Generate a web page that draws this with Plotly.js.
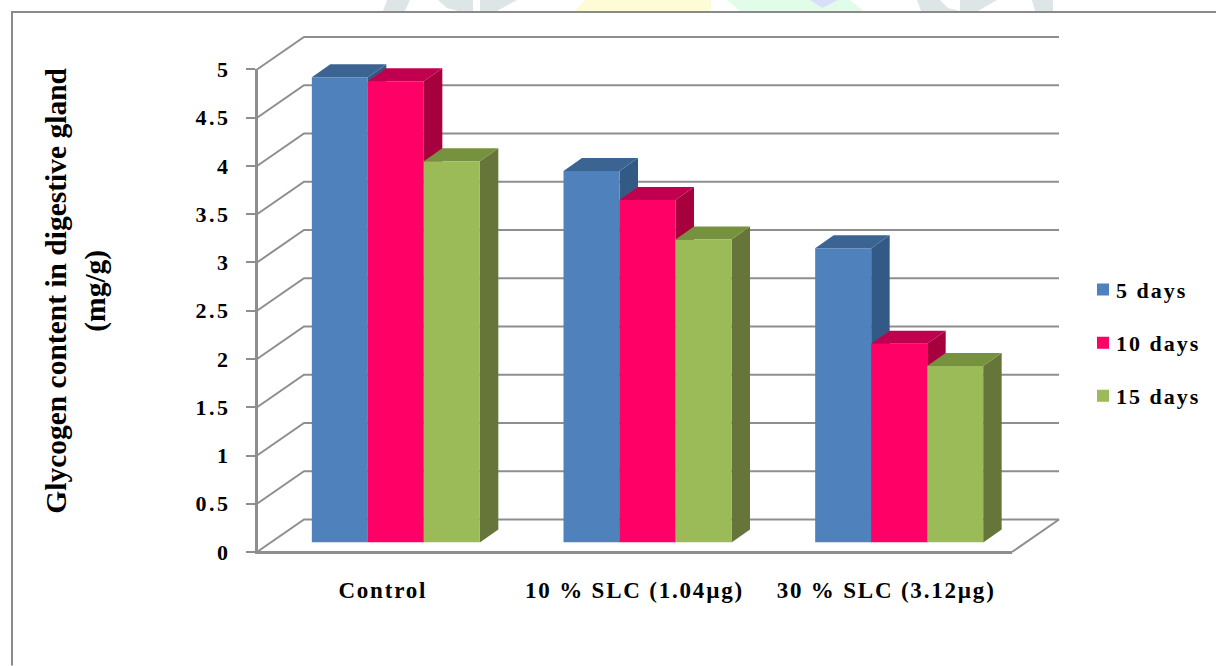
<!DOCTYPE html>
<html>
<head>
<meta charset="utf-8">
<script src="https://cdn.plot.ly/plotly-3.0.1.min.js"></script>
<style>
  html, body { margin: 0; padding: 0; background: #fff; }
  #chart { width: 1216px; height: 666px; }
  /* Wide-set bold serif lettering for ticks and legend */
  .xtick text { letter-spacing: 1.8px; }
  .ytick text { letter-spacing: 2.5px; }
  .legendtext { letter-spacing: 2px; transform: translateX(-7px); }
</style>
</head>
<body>
<div id="chart"></div>
<script>
// Glycogen content in digestive gland (mg/g)
const categories = ['Control', '10 % SLC (1.04µg)', '30 % SLC (3.12µg)'];
const days5 = [4.82, 3.85, 3.05];
const days10 = [4.78, 3.55, 2.06];
const days15 = [3.95, 3.14, 1.83];
const seriesNames = ['5 days', '10 days', '15 days'];
const yTicks = [0, 0.5, 1, 1.5, 2, 2.5, 3, 3.5, 4, 4.5, 5];
const yTitleLines = ['Glycogen content in digestive gland', '(mg/g)'];

const seriesValues = [days5, days10, days15];
const frontColors = ['#4F81BD', '#FF0066', '#9BBB59'];
const topColors = ['#3B6492', '#C0004E', '#76923F'];
const sideColors = ['#335A85', '#A6003F', '#66763A'];

const W = 1216, H = 666;
// Pixel frame of the front plane of the 3-D box
const L = 257, R = 1012, T = 69.5, B = 552.5;
const xUnit = (R - L) / 3;
const yUnit = (B - T) / 5;
// Outer plot box that holds the walls and floor
const boxL = 247, boxR = 1070, boxT = 27, boxB = 562.5;
const paperX = px => (px - boxL) / (boxR - boxL);
const paperY = py => (boxB - py) / (boxB - boxT);

// Depths: front plane to bar face, bar face to bar rear, front plane to back wall
const faceDxPx = 13, faceDyPx = 9.5;
const barDx = faceDxPx / xUnit, barDy = faceDyPx / yUnit;
const depthDx = 18.5 / xUnit, depthDy = 13 / yUnit;
const wallDx = 47 / xUnit, wallDy = 32.5 / yUnit;
const barWidth = 56 / xUnit;

const gridColor = '#8E8E8E';
const traces = [];

// Front edges of the box, on the visible axes
traces.push({
  type: 'scatter', mode: 'lines', xaxis: 'x', yaxis: 'y',
  x: [-0.5, -0.5, 2.5],
  y: [5, 0, 0],
  line: { color: gridColor, width: 2 },
  showlegend: false, hoverinfo: 'skip'
});

// Back wall and side wall gridlines, one polyline per tick
yTicks.forEach(v => {
  if (v === 0) return;
  traces.push({
    type: 'scatter', mode: 'lines', xaxis: 'x2', yaxis: 'y2',
    x: [-0.5, -0.5 + wallDx, 2.5 + wallDx],
    y: [v, v + wallDy, v + wallDy],
    line: { color: gridColor, width: 2 },
    showlegend: false, hoverinfo: 'skip'
  });
});

// Floor outline
traces.push({
  type: 'scatter', mode: 'lines', xaxis: 'x2', yaxis: 'y2',
  x: [-0.5, -0.5 + wallDx, 2.5 + wallDx, 2.5],
  y: [0, wallDy, wallDy, 0],
  line: { color: gridColor, width: 2 },
  showlegend: false, hoverinfo: 'skip'
});

// Side and top faces, painted left to right so nearer bars overlap
categories.forEach((cat, c) => {
  seriesValues.forEach((vals, s) => {
    const xL = c + barDx + (s - 1.5) * barWidth;
    const xR = xL + barWidth;
    const yB = barDy;
    const yT = vals[c] + barDy;
    traces.push({
      type: 'scatter', mode: 'lines', xaxis: 'x2', yaxis: 'y2',
      x: [xR, xR, xR + depthDx, xR + depthDx, xR],
      y: [yB, yT, yT + depthDy, yB + depthDy, yB],
      fill: 'toself', fillcolor: sideColors[s],
      line: { width: 0, color: sideColors[s] },
      showlegend: false, hoverinfo: 'skip'
    });
    traces.push({
      type: 'scatter', mode: 'lines', xaxis: 'x2', yaxis: 'y2',
      x: [xL, xR, xR + depthDx, xL + depthDx, xL],
      y: [yT, yT, yT + depthDy, yT + depthDy, yT],
      fill: 'toself', fillcolor: topColors[s],
      line: { width: 0, color: topColors[s] },
      showlegend: false, hoverinfo: 'skip'
    });
  });
});

// Front faces of the bars, on axes set back to the bar plane
seriesValues.forEach((vals, s) => {
  traces.push({
    type: 'bar', xaxis: 'x3', yaxis: 'y3',
    name: seriesNames[s],
    x: [0, 1, 2], y: vals,
    marker: { color: frontColors[s], line: { width: 0 } },
    legendgroup: seriesNames[s]
  });
});

// Pale logo fragments showing above the frame
const pathFrom = pts => 'M' + pts.map(p => paperX(p[0]) + ',' + paperY(p[1])).join('L') + 'Z';
const backdrop = [
  { c: '#DDE5E7', p: [[387, 0], [410, 0], [405, 11], [383, 11]] },
  { c: '#DDE5E7', p: [[438, 0], [447, 8], [458, 11], [473, 11], [473, 0], [480, 0], [480, 11], [497, 11], [517, 0]] },
  { c: '#FEFCD6', p: [[585, 0], [711, 0], [711, 11], [575, 11]] },
  { c: '#E2FCEA', p: [[727, 0], [850, 0], [863, 11], [740, 11]] },
  { c: '#D9DFFA', p: [[810, 0], [838, 0], [822, 8]] },
  { c: '#DDE5E7', p: [[917, 0], [940, 0], [948, 8], [960, 11], [921, 11]] },
  { c: '#DDE5E7', p: [[960, 0], [997, 0], [978, 11], [960, 11]] },
  { c: '#DDE5E7', p: [[1032, 0], [1053, 0], [1053, 11], [1035, 11]] }
];
const shapes = backdrop.map(b => ({
  type: 'path', xref: 'paper', yref: 'paper', layer: 'below',
  path: pathFrom(b.p), fillcolor: b.c, line: { width: 0 }
}));
// Open frame: left and top edges only
shapes.push({
  type: 'path', xref: 'paper', yref: 'paper', layer: 'below',
  path: 'M' + paperX(12) + ',' + paperY(H) + 'L' + paperX(12) + ',' + paperY(12) + 'L' + paperX(W) + ',' + paperY(12),
  line: { color: '#8A8A8A', width: 2 }
});

const serif = 'Liberation Serif, Times New Roman, serif';
const labelFont = { family: serif, size: 22, color: '#000', weight: 700 };
const categoryFont = { family: serif, size: 23, color: '#000', weight: 700 };
const titleFont = { family: serif, size: 29.5, color: '#000', weight: 700 };

const layout = {
  width: W, height: H,
  margin: { l: boxL, r: W - boxR, t: boxT, b: H - boxB, pad: 0, autoexpand: false },
  paper_bgcolor: '#fff', plot_bgcolor: 'rgba(0,0,0,0)',
  barmode: 'group',
  bargap: 1 - 3 * barWidth, bargroupgap: 0,
  shapes,
  // Visible axes on the front plane
  xaxis: {
    anchor: 'y', domain: [paperX(L), paperX(R)],
    range: [-0.5, 2.5], tickmode: 'array', tickvals: [0, 1, 2], ticktext: categories,
    showgrid: false, zeroline: false, showline: true, linecolor: gridColor, linewidth: 2,
    ticks: '', tickangle: 0, tickfont: categoryFont, ticklabelstandoff: 16
  },
  yaxis: {
    anchor: 'x', domain: [paperY(B), paperY(T)],
    range: [0, 5], tickmode: 'array', tickvals: yTicks,
    ticktext: yTicks.map(String),
    showgrid: false, zeroline: false, showline: true, linecolor: gridColor, linewidth: 2,
    ticks: 'outside', ticklen: 9, tickwidth: 2, tickcolor: gridColor,
    tickfont: labelFont, ticklabelstandoff: 11
  },
  // Hidden axes covering the whole box, same scale as the front plane
  xaxis2: {
    anchor: 'y2', domain: [0, 1], visible: false,
    range: [-0.5 + (boxL - L) / xUnit, -0.5 + (boxR - L) / xUnit]
  },
  yaxis2: {
    anchor: 'x2', domain: [0, 1], visible: false,
    range: [(B - boxB) / yUnit, (B - boxT) / yUnit]
  },
  // Hidden axes for the bar plane
  xaxis3: {
    anchor: 'y3', visible: false, range: [-0.5, 2.5],
    domain: [paperX(L + faceDxPx), paperX(R + faceDxPx)]
  },
  yaxis3: {
    anchor: 'x3', visible: false, range: [0, 5],
    domain: [paperY(B - faceDyPx), paperY(T - faceDyPx)]
  },
  legend: {
    x: paperX(1083), y: paperY(269), xanchor: 'left', yanchor: 'top',
    font: labelFont, tracegroupgap: 21.5, traceorder: 'grouped',
    itemwidth: 30, bgcolor: 'rgba(0,0,0,0)', borderwidth: 0
  },
  annotations: [
    {
      xref: 'paper', yref: 'paper', x: paperX(56), y: paperY(291),
      xanchor: 'center', yanchor: 'middle', showarrow: false, textangle: -90,
      text: yTitleLines[0], font: titleFont
    },
    {
      xref: 'paper', yref: 'paper', x: paperX(96), y: paperY(291),
      xanchor: 'center', yanchor: 'middle', showarrow: false, textangle: -90,
      text: yTitleLines[1], font: titleFont
    }
  ]
};

Plotly.newPlot('chart', traces, layout, { displayModeBar: false, staticPlot: true });
</script>
</body>
</html>
